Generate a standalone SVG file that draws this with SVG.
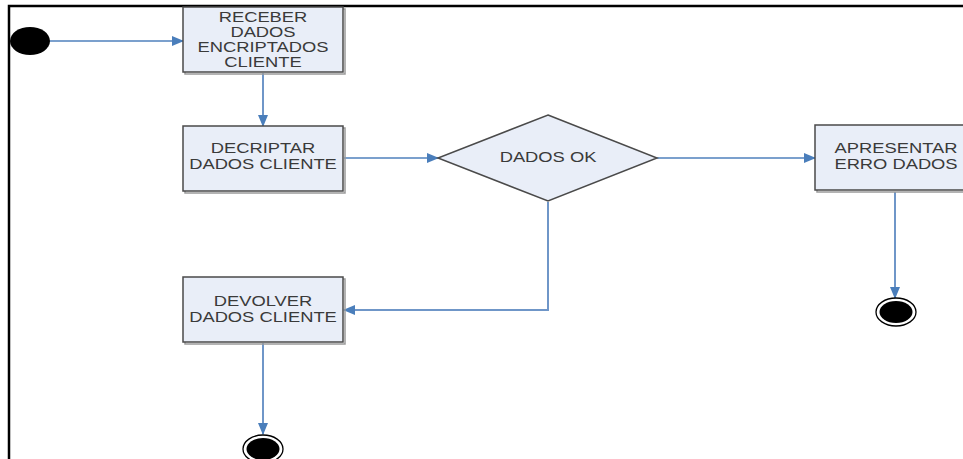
<svg xmlns="http://www.w3.org/2000/svg" width="963" height="459" viewBox="0 0 963 459">
  <defs>
    <marker id="arrow" markerWidth="12" markerHeight="10" refX="11" refY="5" orient="auto" markerUnits="userSpaceOnUse">
      <path d="M0,0 L12,5 L0,10 Z" fill="#4a7ebb"/>
    </marker>
    <style>
      .frame { fill: none; stroke: #000; stroke-width: 2.5; }
      .box { fill: #e9eef8; stroke: #4a4a4a; stroke-width: 1.5; }
      .shadow { fill: none; stroke: #9a9a9a; stroke-width: 1.5; }
      .flow { fill: none; stroke: #4f81bd; stroke-width: 1.3; }
      .flowv { fill: none; stroke: #6f96c8; stroke-width: 2; }
      .lbl { font-family: "Liberation Sans", Arial, sans-serif; font-size: 14px; fill: #3a3a3a; text-anchor: middle; }
      .dot { fill: #000; }
      .ring { fill: #fff; stroke: #000; stroke-width: 1.3; }
    </style>
  </defs>

  <rect width="963" height="459" fill="#fff"/>
  <path class="frame" d="M9,459 V6 H963"/>

  <!-- connectors -->
  <g id="connectors">
    <path class="flow" d="M50,41 H183" marker-end="url(#arrow)"/>
    <path class="flowv" d="M263,73 V126" marker-end="url(#arrow)"/>
    <path class="flow" d="M344,158 H438" marker-end="url(#arrow)"/>
    <path class="flow" d="M657,158 H815" marker-end="url(#arrow)"/>
    <path class="flowv" d="M548,202 V310 H344" marker-end="url(#arrow)"/>
    <path class="flowv" d="M895,192 V298" marker-end="url(#arrow)"/>
    <path class="flowv" d="M263,343 V434" marker-end="url(#arrow)"/>
  </g>

  <!-- initial state -->
  <g id="start">
    <ellipse class="dot" cx="30" cy="41" rx="20" ry="14"/>
  </g>

  <g id="receber">
    <rect class="shadow" x="185" y="9" width="160" height="65"/>
    <rect class="box" x="183" y="7" width="160" height="65"/>
    <g transform="translate(263,0) scale(1.31,1)">
      <text class="lbl" x="0" y="22">RECEBER</text>
      <text class="lbl" x="0" y="37">DADOS</text>
      <text class="lbl" x="0" y="52">ENCRIPTADOS</text>
      <text class="lbl" x="0" y="67">CLIENTE</text>
    </g>
  </g>

  <g id="decriptar">
    <rect class="shadow" x="185" y="128" width="160" height="65"/>
    <rect class="box" x="183" y="126" width="160" height="65"/>
    <g transform="translate(263,0) scale(1.31,1)">
      <text class="lbl" x="0" y="153">DECRIPTAR</text>
      <text class="lbl" x="0" y="169">DADOS CLIENTE</text>
    </g>
  </g>

  <g id="dados-ok">
    <polygon class="box" points="548,115 657,158 548,201 438,158"/>
    <g transform="translate(548,0) scale(1.31,1)">
      <text class="lbl" x="0" y="162">DADOS OK</text>
    </g>
  </g>

  <g id="apresentar">
    <rect class="shadow" x="817" y="127" width="160" height="65"/>
    <rect class="box" x="815" y="125" width="160" height="65"/>
    <g transform="translate(896,0) scale(1.31,1)">
      <text class="lbl" x="0" y="153">APRESENTAR</text>
      <text class="lbl" x="0" y="169">ERRO DADOS</text>
    </g>
  </g>

  <g id="devolver">
    <rect class="shadow" x="185" y="279" width="160" height="65"/>
    <rect class="box" x="183" y="277" width="160" height="65"/>
    <g transform="translate(263,0) scale(1.31,1)">
      <text class="lbl" x="0" y="306">DEVOLVER</text>
      <text class="lbl" x="0" y="322">DADOS CLIENTE</text>
    </g>
  </g>

  <!-- final states -->
  <g id="end-erro">
    <ellipse class="ring" cx="896" cy="312" rx="20" ry="14"/>
    <ellipse class="dot" cx="896" cy="312" rx="16.5" ry="11"/>
  </g>

  <g id="end-ok">
    <ellipse class="ring" cx="263" cy="449" rx="20" ry="14"/>
    <ellipse class="dot" cx="263" cy="449" rx="16.5" ry="11"/>
  </g>
</svg>
